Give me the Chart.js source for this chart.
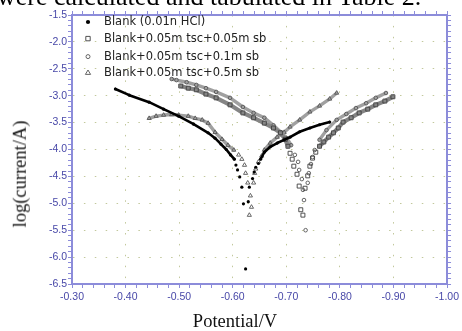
<!DOCTYPE html>
<html>
<head>
<meta charset="utf-8">
<script src="https://cdn.jsdelivr.net/npm/chart.js@4"></script>
<style>
  html, body { margin: 0; padding: 0; background: #fff; }
  #wrap { position: relative; width: 462px; height: 331px; overflow: hidden; }
  #chart { position: absolute; left: 0; top: 0; }
  .txt { position: absolute; white-space: nowrap; font-family: "Liberation Serif", "Times New Roman", serif; color: #111; line-height: 1; }
</style>
</head>
<body>
<div id="wrap">
  <canvas id="chart" width="462" height="331"></canvas>
  <div class="txt" style="left:-3px; top:-16px; font-size:26px; color:#000;">were calculated and tabulated in Table 2.</div>
  <div class="txt" style="left:20px; top:174px; font-size:18.5px; transform:translate(-50%,-50%) rotate(-90deg);">log(current/A)</div>
  <div class="txt" style="left:235px; top:321px; font-size:18.5px; transform:translate(-50%,-50%);">Potential/V</div>
</div>
<script>
// series labels
const seriesNames = [
    'Blank (0.01n HCl)',
    'Blank+0.05m tsc+0.05m sb',
    'Blank+0.05m tsc+0.1m sb',
    'Blank+0.05m tsc+0.5m sb'
];

// potential (V) and log(current/A), in sweep order
const blankV = [-0.381, -0.407, -0.444, -0.471, -0.499, -0.527, -0.554, -0.567, -0.578, -0.588,
    -0.596, -0.603, -0.606, -0.609, -0.613, -0.617, -0.620, -0.629, -0.624, -0.631,
    -0.637, -0.640, -0.643, -0.648, -0.652, -0.659, -0.670, -0.683, -0.696, -0.707,
    -0.725, -0.744, -0.762, -0.781];
const blankLogI = [-2.875, -2.99, -3.12, -3.25, -3.38, -3.53, -3.69, -3.79, -3.90, -4.00,
    -4.10, -4.18, -4.29, -4.38, -4.51, -4.70, -5.01, -4.97, -6.22, -4.70,
    -4.54, -4.42, -4.33, -4.26, -4.18, -4.05, -3.95, -3.88, -3.82, -3.77,
    -3.67, -3.60, -3.54, -3.49];

const sb005V = [-0.503, -0.517, -0.532, -0.550, -0.569, -0.595, -0.619, -0.639, -0.659, -0.676,
    -0.689, -0.698, -0.703, -0.707, -0.711, -0.714, -0.720, -0.724, -0.727, -0.731,
    -0.735, -0.740, -0.744, -0.749, -0.755, -0.762, -0.770, -0.779, -0.788, -0.797,
    -0.806, -0.821, -0.836, -0.852, -0.867, -0.884, -0.899];
const sb005LogI = [-2.82, -2.86, -2.89, -2.97, -3.04, -3.17, -3.32, -3.41, -3.51, -3.60,
    -3.69, -3.81, -3.94, -4.07, -4.18, -4.31, -4.46, -4.68, -5.12, -5.22,
    -4.72, -4.49, -4.31, -4.16, -4.05, -3.94, -3.86, -3.77, -3.69, -3.60,
    -3.49, -3.41, -3.32, -3.25, -3.17, -3.10, -3.02];

const sb01V = [-0.486, -0.495, -0.514, -0.532, -0.550, -0.569, -0.595, -0.619, -0.639, -0.659,
    -0.676, -0.690, -0.701, -0.709, -0.716, -0.722, -0.724, -0.729, -0.731, -0.733,
    -0.736, -0.740, -0.742, -0.746, -0.749, -0.753, -0.762, -0.775, -0.794, -0.812,
    -0.830, -0.849, -0.867, -0.886];
const sb01LogI = [-2.69, -2.71, -2.75, -2.80, -2.86, -2.93, -3.04, -3.21, -3.32, -3.41,
    -3.55, -3.68, -3.79, -3.92, -4.10, -4.23, -4.38, -4.55, -4.75, -4.94,
    -5.50, -4.62, -4.44, -4.27, -4.14, -4.01, -3.82, -3.64, -3.45, -3.34,
    -3.23, -3.14, -3.04, -2.95];

const sb05V = [-0.444, -0.457, -0.471, -0.486, -0.499, -0.517, -0.530, -0.543, -0.554, -0.567,
    -0.580, -0.591, -0.602, -0.611, -0.617, -0.622, -0.624, -0.628, -0.633, -0.635,
    -0.631, -0.639, -0.641, -0.643, -0.648, -0.654, -0.659, -0.670, -0.683, -0.696,
    -0.707, -0.725, -0.744, -0.762, -0.781, -0.794];
const sb05LogI = [-3.42, -3.38, -3.36, -3.35, -3.36, -3.38, -3.42, -3.45, -3.51, -3.68,
    -3.81, -3.92, -4.01, -4.10, -4.18, -4.29, -4.44, -4.62, -4.86, -5.07,
    -5.22, -4.62, -4.44, -4.36, -4.23, -4.12, -4.01, -3.88, -3.77, -3.68,
    -3.58, -3.45, -3.30, -3.19, -3.06, -2.95];

// axis ranges and tick steps
const xRange = [-1.0, -0.3];
const yRange = [-6.5, -1.5];
const xMajor = 0.1, xMinor = 0.02;
const yMajor = 0.5, yMinor = 0.1;

function pts(xs, ys) {
    return xs.map((x, i) => ({ x: x, y: ys[i] }));
}
function isMultiple(v, step) {
    const r = v / step;
    return Math.abs(r - Math.round(r)) < 1e-6;
}

const tickBlue = '#4848a8';
const axisBlue = '#8c8cda';
const gridDot = '#c2c89c';

// hide the joining line where the sweep points spread apart near the dip
function gapLine(limit) {
    return function(c) {
        return Math.min(c.p0.parsed.y, c.p1.parsed.y) < limit ? 'rgba(0,0,0,0)' : undefined;
    };
}

function baseSeries(label, data) {
    return { label: label, data: data, showLine: true, borderJoinStyle: 'round', borderCapStyle: 'round' };
}

const datasets = [
    Object.assign(baseSeries(seriesNames[0], pts(blankV, blankLogI)), {
        borderColor: '#000', borderWidth: 2.6,
        pointStyle: 'circle', pointRadius: 1.6, pointBorderWidth: 0,
        pointBackgroundColor: '#000', pointBorderColor: '#000',
        segment: { borderColor: gapLine(-4.2) }
    }),
    Object.assign(baseSeries(seriesNames[1], pts(sb005V, sb005LogI)), {
        borderColor: '#858585', borderWidth: 4.2,
        pointStyle: 'rect', pointRadius: 2.8, pointBorderWidth: 0.9,
        pointBackgroundColor: 'rgba(0,0,0,0)', pointBorderColor: '#3e3e3e',
        segment: { borderColor: gapLine(-4.0) }
    }),
    Object.assign(baseSeries(seriesNames[2], pts(sb01V, sb01LogI)), {
        borderColor: '#a0a0a0', borderWidth: 3.4,
        pointStyle: 'circle', pointRadius: 1.8, pointBorderWidth: 0.9,
        pointBackgroundColor: 'rgba(0,0,0,0)', pointBorderColor: '#555',
        segment: { borderColor: gapLine(-4.0) }
    }),
    Object.assign(baseSeries(seriesNames[3], pts(sb05V, sb05LogI)), {
        borderColor: '#a0a0a0', borderWidth: 3.4,
        pointStyle: 'triangle', pointRadius: 2.4, pointBorderWidth: 0.9,
        pointBackgroundColor: 'rgba(0,0,0,0)', pointBorderColor: '#555',
        segment: { borderColor: gapLine(-4.05) }
    })
];

// legend drawn inside the plot, top-left
const insideLegend = {
    id: 'insideLegend',
    afterDatasetsDraw(chart) {
        const ctx = chart.ctx;
        const left = chart.chartArea.left;
        const markX = left + 16, textX = left + 32;
        const rows = [22, 38.6, 56.6, 72.6];
        ctx.save();
        ctx.font = '11.5px "DejaVu Sans", sans-serif';
        ctx.textBaseline = 'middle';
        chart.data.datasets.forEach((ds, i) => {
            const y = rows[i];
            ctx.lineWidth = 0.9;
            ctx.strokeStyle = ds.pointBorderColor;
            ctx.fillStyle = ds.pointBackgroundColor;
            ctx.beginPath();
            if (ds.pointStyle === 'rect') {
                ctx.rect(markX - 2.2, y - 2.2, 4.4, 4.4);
                ctx.stroke();
            } else if (ds.pointStyle === 'triangle') {
                ctx.moveTo(markX, y - 2.6);
                ctx.lineTo(markX + 2.6, y + 1.8);
                ctx.lineTo(markX - 2.6, y + 1.8);
                ctx.closePath();
                ctx.stroke();
            } else if (i === 0) {
                ctx.arc(markX, y, 2.1, 0, Math.PI * 2);
                ctx.fill();
            } else {
                ctx.arc(markX, y, 2.0, 0, Math.PI * 2);
                ctx.stroke();
            }
            ctx.fillStyle = '#222';
            ctx.fillText(ds.label, textX, y + 0.5);
        });
        ctx.restore();
    }
};

function axisCommon(range, minor, major, reverse) {
    return {
        type: 'linear',
        min: range[0],
        max: range[1],
        reverse: reverse,
        border: { color: axisBlue, width: 2, dash: [1.5, 9.4] },
        grid: {
            color: c => (c.tick && isMultiple(c.tick.value, major)) ? gridDot : 'rgba(0,0,0,0)',
            lineWidth: 1,
            tickColor: axisBlue,
            tickLength: 4,
            tickWidth: 1
        },
        ticks: {
            stepSize: minor,
            autoSkip: false,
            maxRotation: 0,
            color: tickBlue,
            font: { family: '"Liberation Sans", Arial, sans-serif', size: 10.5 }
        }
    };
}

const xAxis = axisCommon(xRange, xMinor, xMajor, true);
xAxis.position = 'bottom';
xAxis.ticks.padding = 3;
xAxis.ticks.callback = v => isMultiple(v, xMajor) ? v.toFixed(2) : '';
xAxis.afterFit = s => { s.height = 47; };

const xTop = axisCommon(xRange, xMinor, xMajor, true);
xTop.position = 'top';
xTop.grid.drawOnChartArea = false;
xTop.ticks.display = false;
xTop.afterFit = s => { s.height = 4; };

const yAxis = axisCommon(yRange, yMinor, yMajor, false);
yAxis.position = 'left';
yAxis.ticks.padding = 1;
yAxis.ticks.callback = v => isMultiple(v, yMajor) ? v.toFixed(1) : '';
yAxis.afterFit = s => { s.width = 72; };

const yRight = axisCommon(yRange, yMinor, yMajor, false);
yRight.position = 'right';
yRight.grid.drawOnChartArea = false;
yRight.ticks.display = false;
yRight.afterFit = s => { s.width = 4; };

new Chart(document.getElementById('chart').getContext('2d'), {
    type: 'scatter',
    data: { datasets: datasets },
    options: {
        responsive: false,
        animation: false,
        layout: { padding: { top: 11, right: 6, left: 0, bottom: 0 } },
        plugins: {
            legend: { display: false },
            tooltip: { enabled: false }
        },
        scales: { x: xAxis, x2: xTop, y: yAxis, y2: yRight }
    },
    plugins: [insideLegend]
});
</script>
</body>
</html>
